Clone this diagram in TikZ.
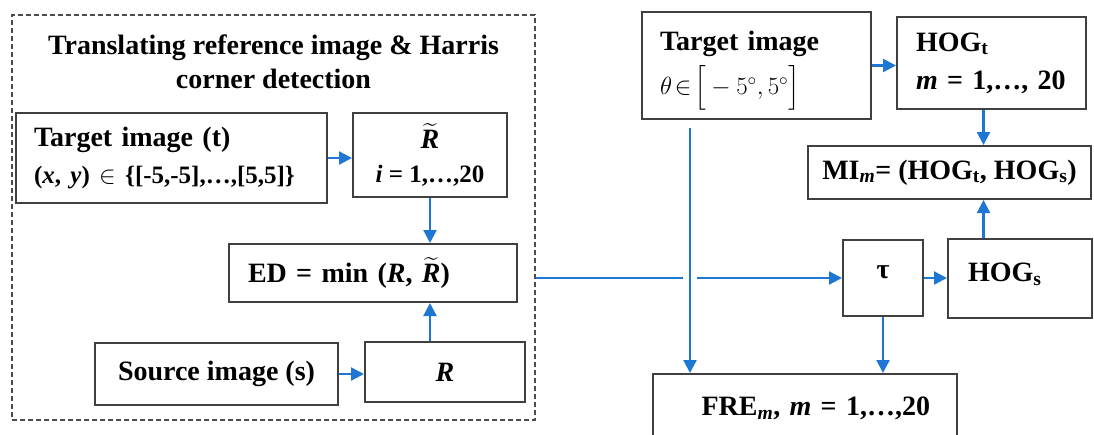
\documentclass[tikz,border=0pt]{standalone}
\usepackage{fontspec}
\setmainfont{Liberation Serif}
\usepackage{amsmath}
\usepackage{xcolor}
\usepackage{tikz}
\usetikzlibrary{
    calc,
    arrows.meta,
    positioning
}
\definecolor{flowblue}{RGB}{31,119,212}
\newcommand{\bigfont}{\fontsize{28}{34}\selectfont}
\newcommand{\smallfont}{\fontsize{25}{30}\selectfont}
\tikzset{
    box/.style={draw=black!75, line width=2pt, rectangle, inner sep=0pt, font=\bigfont\bfseries, align=center},
    lbox/.style={box, align=left},
    group/.style={draw=black!70, line width=1.4pt, dash pattern=on 5pt off 3pt, rectangle, inner sep=0pt},
    title/.style={font=\bigfont\bfseries, align=center},
    flow/.style={draw=flowblue, line width=2.2pt, -{Triangle[length=13pt,width=13pt]}},
    link/.style={draw=flowblue, line width=2.2pt}
}

\begin{document}
\begin{tikzpicture}[x=1pt, y=-1pt]
        \useasboundingbox (0,0) rectangle (1094,434);
        \begin{scope}[shift={(0,0)}]
            \draw (273.5,217.5) node[group, minimum width=523pt, minimum height=405pt](grp){};
            \draw (273.5,62) node[title](ttl){Translating reference image \& Harris\\ corner detection};

            \draw (171.5,158) node[lbox, inner xsep=18pt, text width=275pt, minimum height=90pt](tgtT)
                {Target image (t)\\[3pt] \smallfont(\textit{x}, \textit{y}) $\in$ \{[-5,-5],…,[5,5]\}};
            \draw (430,155) node[box, minimum width=154pt, minimum height=84pt](rtil)
                {$\widetilde{\textbf{\textit{R}}}$\\ \smallfont\textit{i} = 1,…,20};
            \draw (373,273) node[lbox, inner xsep=19pt, text width=250pt, minimum height=58pt](ed)
                {ED = min (\textit{R}, $\widetilde{\textbf{\textit{R}}}$)};
            \draw (216.5,374) node[box, minimum width=243pt, minimum height=62pt](src){Source image (s)};
            \draw (445,372) node[box, minimum width=160pt, minimum height=60pt](rbox){\textit{R}};

            \draw[flow] (tgtT.east) -- (tgtT.east -| rtil.west);
            \draw[flow] (rtil.south) -- (rtil.south |- ed.north);
            \draw[flow] (src.east) -- (src.east -| rbox.west);
            \draw[flow] (rtil.south |- rbox.north) -- (rtil.south |- ed.south);
        \end{scope}

        \begin{scope}[shift={(0,0)}]
            \draw (756.5,65.5) node[lbox, inner xsep=18pt, text width=193pt, minimum height=107pt](tgtR)
                {\rule{0pt}{30pt}Target image\\[8pt] \mdseries\smallfont$\theta\!\in\!\Big[-5^\circ,5^\circ\Big]$};
            \draw (991.5,63) node[lbox, inner xsep=19pt, text width=151pt, minimum height=92pt](hogt)
                {HOG\textsubscript{t}\\[4pt] \textit{m} = 1,…, 20};
            \draw (949.5,172.5) node[box, minimum width=283pt, minimum height=53pt](mi)
                {MI\textsubscript{\textit{m}}= (HOG\textsubscript{t}, HOG\textsubscript{s})};
            \draw (883,278) node[box, minimum width=80pt, minimum height=76pt](tau){\raisebox{12pt}{τ}};
            \draw (1020,278.5) node[lbox, inner xsep=20pt, text width=104pt, minimum height=79pt](hogs)
                {\raisebox{12pt}{HOG\textsubscript{s}}};
            \draw (805,409) node[box, align=right, inner xsep=27pt, text width=250pt, minimum height=70pt](fre)
                {\raisebox{6pt}{FRE\textsubscript{\textit{m}}, \textit{m} = 1,…,20}};
            \coordinate (vtop) at (690,128);

            \draw[flow] (tgtR.east) -- (tgtR.east -| hogt.west);
            \draw[flow] ([xshift=-8pt]hogt.south) -- ([xshift=-8pt]hogt.south |- mi.north);
            \draw[flow] ([xshift=-8pt]hogt.south |- hogs.north) -- ([xshift=-8pt]hogt.south |- mi.south);
            \draw[flow] (tau.east) -- (tau.east -| hogs.west);
            \draw[flow] (tau.south) -- (tau.south |- fre.north);
            \draw[flow] (vtop) -- (vtop |- fre.north);
            % horizontal line, broken where it crosses the vertical one
            \draw[link] (grp.east |- tau.west) -- ([xshift=-7pt]vtop |- tau.west);
            \draw[flow] ([xshift=7pt]vtop |- tau.west) -- (tau.west);
        \end{scope}
    \end{tikzpicture}
\end{document}
